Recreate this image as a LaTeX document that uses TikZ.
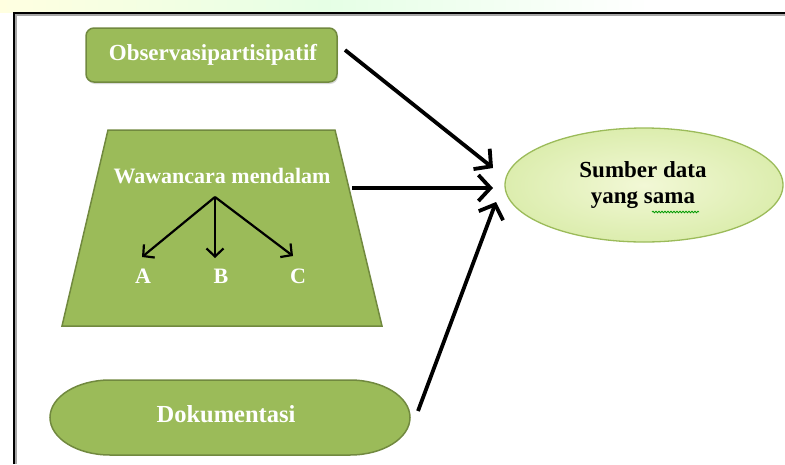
\documentclass[tikz,border=0pt]{standalone}
\usepackage{fontspec}
\setmainfont{Liberation Serif}
\usetikzlibrary{arrows.meta,decorations.pathmorphing,shadows}
\definecolor{ogreen}{HTML}{9BBB59}
\definecolor{odark}{HTML}{71893F}
\definecolor{olight}{HTML}{F2F8D6}
\definecolor{olight2}{HTML}{DCEDAE}
\tikzset{
  greenbox/.style={fill=ogreen, draw=odark, line width=1.5pt},
  wtext/.style={text=white, font=\bfseries\fontsize{23}{26}\selectfont, inner sep=0pt},
  bigarrow/.style={line width=3.8pt, -{Straight Barb[length=12pt,width=26pt]}},
  smallarrow/.style={line width=2.2pt, -{Straight Barb[length=8pt,width=17pt]}},
  softshadow/.style={drop shadow={shadow xshift=1pt,shadow yshift=-2pt,opacity=0.25,fill=black!60}},
}
\begin{document}
\begin{tikzpicture}[x=1pt,y=-1pt]
\useasboundingbox (0,0) rectangle (785,464);
% faint watermark band
\shade[left color=yellow!12, right color=green!10!white] (0,0) rectangle (330,12);
\shade[left color=green!10!white, right color=white] (330,0) rectangle (650,12);
% frame
\draw[black!35, line width=2pt] (16,464) -- (16,15) -- (785,15);
\draw[black, line width=2pt] (14,464) -- (14,13) -- (785,13);

% Observasi partisipatif
\node[greenbox, rounded corners=8pt, minimum width=251pt, minimum height=54pt, softshadow] (obs) at (211.5,55) {};
\node[wtext] (obst) at (213,55) {Observasipartisipatif};

% Trapezoid
\draw[greenbox] (108,130) -- (335,130) -- (382,326) -- (62,326) -- cycle;
\node[wtext, font=\bfseries\fontsize{22}{25}\selectfont] (wm) at (222,176) {Wawancara mendalam};
\coordinate (split) at (215,197);
\node[wtext, font=\bfseries\fontsize{22}{25}\selectfont] (A) at (143,276) {A};
\node[wtext, font=\bfseries\fontsize{22}{25}\selectfont] (B) at (221,276) {B};
\node[wtext, font=\bfseries\fontsize{22}{25}\selectfont] (C) at (298,276) {C};
\coordinate (Atip) at (142,257);
\coordinate (Btip) at (215,258);
\coordinate (Ctip) at (293,256);
\draw[smallarrow] (split) -- (Atip);
\draw[smallarrow] (split) -- (Btip);
\draw[smallarrow] (split) -- (Ctip);

% Dokumentasi
\draw[greenbox] (110,380) -- (350,380)
  .. controls (383,380) and (410,396.8) .. (410,417.5)
  .. controls (410,438.2) and (383,455) .. (350,455)
  -- (110,455)
  .. controls (77,455) and (50,438.2) .. (50,417.5)
  .. controls (50,396.8) and (77,380) .. (110,380) -- cycle;
\node[wtext, font=\bfseries\fontsize{24.5}{28}\selectfont] (dok) at (226,414) {Dokumentasi};

% Ellipse
\draw[draw=ogreen, line width=1.3pt, inner color=olight, outer color=olight2] (644,185) ellipse[x radius=139, y radius=57];
\node[font=\bfseries\fontsize{23}{26}\selectfont, align=center, inner sep=0pt] (sum) at (643,185)
  {Sumber data\\[0pt]yang sama};
\draw[green!60!black, line width=0.8pt, decorate, decoration={snake, amplitude=0.8pt, segment length=3pt}] (652,212) -- (699,212);

% main arrows
\coordinate (s1) at (345,50);
\coordinate (e1) at (493,168);
\coordinate (s2) at (352,188);
\coordinate (e2) at (493,188);
\coordinate (s3) at (418,411);
\coordinate (e3) at (496,202);
\draw[bigarrow] (s1) -- (e1);
\draw[bigarrow] (s2) -- (e2);
\draw[bigarrow] (s3) -- (e3);
\end{tikzpicture}
\end{document}
